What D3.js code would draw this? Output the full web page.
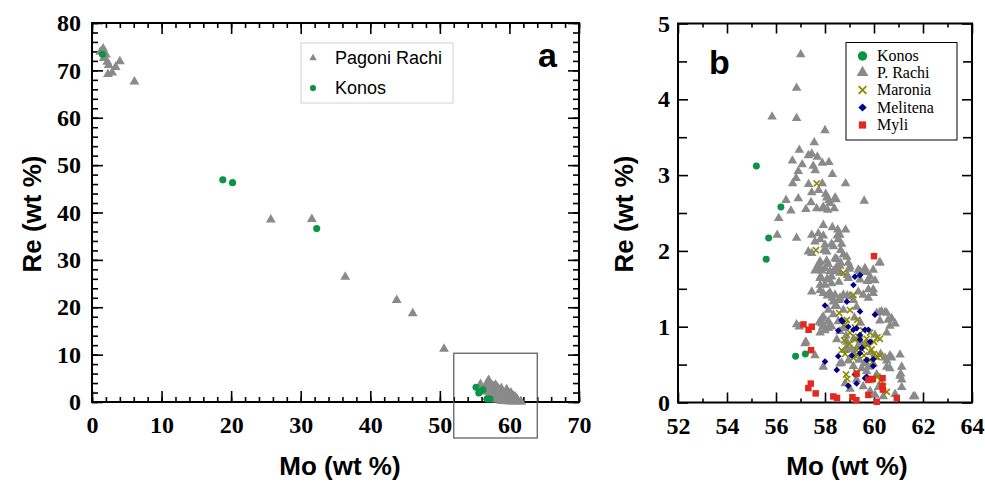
<!DOCTYPE html>
<html>
<head>
<meta charset="UTF-8">
<style>
  body { margin: 0; background: #fff; }
  svg { display: block; }
</style>
</head>
<body>
<svg></svg>
<script src="https://d3js.org/d3.v7.min.js"></script>
<script>

// ---- data (Mo wt %, Re wt %) ----
// panel a only: the high-Re analyses
let prachiHigh = [[1.2,73.9],[1.6,74.6],[2.0,73.3],[1.7,72.6],[2.2,71.8],[2.4,71.1],[2.3,69.2],[2.9,69.5],
  [3.4,70.7],[4.0,71.9],[6.1,67.6],[25.7,38.5],[31.6,38.6],[36.4,26.4],[43.8,21.5],[46.1,18.7],[50.6,11.2]];
let konosHigh = [[1.5,73.4],[18.8,46.9],[20.2,46.3],[32.3,36.6]];

// both panels
let konos = [[55.2,3.12],[56.2,2.58],[55.7,2.17],[55.6,1.89],[56.8,0.61],[57.2,0.64]];

let prachi = [[57.01,4.59],[56.84,4.15],[55.84,3.77],[56.84,3.75],[58.0,3.59],[57.56,3.43],[56.95,3.33],[57.32,3.26],
  [57.46,3.28],[56.67,3.19],[57.07,3.14],[57.69,3.24],[57.89,3.16],[58.16,3.17],[57.52,3.12],[56.91,3.05],[57.6,3.06],
  [56.82,2.96],[58.3,3.01],[56.68,2.89],[57.33,2.88],[57.89,2.89],[58.84,2.89],[57.46,2.77],[57.74,2.80],[58.03,2.75],
  [56.41,2.67],[56.91,2.69],[57.43,2.64],[58.16,2.67],[58.2,2.63],[58.45,2.68],[59.6,2.66],[56.61,2.53],[57.22,2.55],
  [57.66,2.56],[57.9,2.56],[58.11,2.54],[58.38,2.56],[58.07,2.70],[58.41,2.70],[57.93,2.58],[56.11,2.43],[57.93,2.34],
  [58.3,2.31],[58.52,2.28],[58.84,2.28],[56.05,2.21],[56.84,2.17],[57.46,2.21],[57.73,2.23],[57.93,2.20],[58.5,2.20],
  [57.59,2.12],[57.8,2.15],[57.32,1.99],[57.46,1.97],[58.0,2.08],[57.77,1.84],[58.61,2.21],[58.54,2.15],[58.68,2.09],
  [58.34,2.06],[58.07,1.99],[58.64,2.01],[58.75,1.95],[58.89,1.92],[58.41,1.90],[60.24,1.85],[57.96,2.01],[58.27,2.09],
  [57.8,1.86],[58.07,1.87],[58.48,1.89],[58.95,1.84],[58.61,1.80],[57.66,1.77],[57.87,1.74],[58.2,1.73],[58.5,1.75],
  [58.99,1.76],[58.91,1.68],[59.43,1.73],[59.67,1.72],[59.84,1.66],[60.22,1.84],[57.8,1.64],[58.07,1.62],[58.27,1.66],
  [58.0,1.55],[58.27,1.57],[58.57,1.59],[59.43,1.62],[59.73,1.60],[60.04,1.61],[59.97,1.49],[59.77,1.49],[57.46,1.46],
  [57.8,1.48],[58.2,1.45],[58.41,1.42],[58.3,1.38],[58.57,1.35],[58.91,1.41],[59.16,1.35],[58.14,1.22],[58.41,1.27],
  [59.29,1.26],[60.24,1.19],[60.45,1.19],[60.72,1.11],[60.58,1.09],[60.24,1.08],[57.87,1.11],[57.91,1.00],[57.8,0.92],
  [58.2,1.02],[56.95,1.00],[57.22,0.80],[57.59,0.62],[60.65,0.62],[61.06,0.63],[60.45,0.59],[60.52,0.47],[61.09,0.38],
  [61.13,0.30],[60.86,0.11],[61.61,0.08],[58.34,1.73],[58.61,1.71],[59.02,1.79],[58.95,1.64],[59.36,1.75],[59.63,1.77],
  [59.97,1.75],[59.77,1.62],[57.93,1.44],[58.14,1.42],[58.61,1.38],[58.75,1.42],[59.02,1.40],[59.36,1.46],[59.56,1.42],
  [59.77,1.38],[59.97,1.44],[58.34,1.33],[57.93,1.13],[57.87,1.04],[58.14,1.07],[58.0,0.95],[60.11,1.18],[60.31,1.20],
  [60.52,1.18],[60.65,1.01],[60.86,1.04],[60.52,0.92],[60.04,0.89],[58.61,0.94],[58.86,0.88],[58.89,0.80],[59.18,0.84],
  [59.46,0.79],[59.32,0.73],[59.7,0.77],[59.1,0.70],[58.82,0.69],[59.16,0.62],[59.4,0.56],[59.59,0.51],[58.95,0.55],
  [58.61,0.51],[59.86,0.66],[60.04,0.60],[60.27,0.64],[59.97,0.51],[59.77,0.47],[60.52,0.55],[60.72,0.59],[60.65,0.45],
  [61.13,0.47],[60.11,0.37],[59.84,0.29],[60.18,0.20],[61.06,0.35],[61.13,0.20],[61.67,0.08],[57.93,0.47],[58.14,1.82],
  [58.48,1.79],[58.64,1.84],[57.73,1.79],[57.59,1.74],[58.0,1.77],[57.82,1.66],[58.1,1.63],[57.8,1.55],[58.1,1.41],
  [57.77,1.06],[57.96,1.01],[58.14,0.98],[56.84,1.03],[57.18,0.78],[58.27,1.00],[58.54,1.07],[58.75,0.98],[58.48,0.83],
  [58.89,0.73],[58.68,0.52],[59.16,0.48],[59.5,0.45],[59.7,0.41],[59.29,0.30],[58.82,0.25],[59.02,0.18],[59.56,0.21],
  [59.84,0.15],[60.04,0.10],[60.38,0.08],[58.34,1.16],[58.48,1.27],[58.75,1.22],[59.2,1.12],[59.45,1.05]];

// panel b only
let maronia = [[57.66,2.89],[57.63,2.01],[58.75,1.71],[59.16,1.42],[58.58,1.18],[59.02,1.22],[59.32,1.09],[59.22,0.99],
  [59.02,0.92],[59.36,0.87],[59.7,0.84],[59.56,0.95],[59.84,0.92],[60.14,0.86],[60.24,0.84],[58.78,0.82],[58.99,0.77],
  [59.29,0.69],[59.5,0.70],[59.73,0.77],[60.0,0.80],[58.68,0.69],[59.16,0.59],[59.32,0.63],[59.59,0.62],[60.0,0.64],
  [60.14,0.60],[60.24,0.62],[58.86,0.37],[58.91,0.31],[59.29,0.40],[60.14,0.34],[60.27,0.29],[60.38,0.21],[60.52,0.14],
  [58.82,0.64],[59.63,0.73],[59.9,0.70],[58.82,1.03],[58.89,1.09],[59.43,0.83],[59.22,0.83],[59.84,0.56]];
let melitena = [[58.0,1.28],[58.0,0.54],[59.22,1.66],[59.43,1.68],[59.16,1.55],[58.89,1.33],[59.43,1.20],[58.68,1.09],
  [58.54,0.95],[58.95,1.00],[59.16,0.96],[59.43,0.89],[59.63,0.96],[60.04,1.16],[58.54,0.61],[59.09,0.62],[59.43,0.65],
  [58.48,0.43],[59.22,0.37],[59.63,0.32],[58.95,0.22],[59.29,0.25],[59.97,0.48],[59.43,0.83],[59.84,0.80],[59.5,0.72],
  [59.7,0.56],[59.97,0.57],[59.7,0.34],[59.77,0.96],[59.29,0.98],[58.71,1.07]];
let myli = [[60.0,1.93],[57.12,1.03],[57.33,0.96],[57.46,1.00],[57.43,0.69],[57.42,0.25],[57.32,0.19],[57.62,0.12],
  [58.34,0.08],[58.49,0.06],[59.12,0.07],[59.28,0.03],[59.77,0.10],[60.11,0.01],[60.93,0.06],[59.29,0.38],[59.77,0.30],
  [59.95,0.31],[60.35,0.32],[60.34,0.22],[60.36,0.17]];

// inset frame drawn on panel a (Mo 52-64 window)
let insetBox = [52, 64, -7.6, 10.3];

// ticks
let aXMajor = d3.range(0, 71, 10), aXMinor = d3.range(0, 71, 2);
let aYMajor = d3.range(0, 81, 10), aYMinor = d3.range(0, 81, 2);
let bXMajor = d3.range(52, 65, 2), bXMinor = d3.range(53, 64, 2);
let bYMajor = d3.range(0, 6, 1), bYMinor = d3.range(0.5, 5, 1);

let legendA = ["Pagoni Rachi", "Konos"];
let legendB = ["Konos", "P. Rachi", "Maronia", "Melitena", "Myli"];

// ---- drawing ----
let width = 985, height = 482;
let svg = d3.select("svg").attr("width", width).attr("height", height);

const GREEN = "#0a9444", GRAY = "#8a8a8a", OLIVE = "#8c8a00", NAVY = "#000088", RED = "#e3291f";
const SERIF = "'Liberation Serif', 'Times New Roman', serif";
const SANS = "'Liberation Sans', Arial, sans-serif";

let xa = d3.scaleLinear().domain([0, 70]).range([92, 579]);
let ya = d3.scaleLinear().domain([0, 80]).range([402, 23]);
let xb = d3.scaleLinear().domain([52, 64]).range([678, 972]);
let yb = d3.scaleLinear().domain([0, 5]).range([402.5, 23.5]);

function tickSet(axisFn, scale, values, size, transform, labels, pad) {
  let ax = axisFn(scale).tickValues(values).tickSize(-size).tickPadding(pad || 0);
  ax.tickFormat(labels ? d3.format("d") : "");
  let g = svg.append("g").attr("transform", transform).call(ax);
  g.select(".domain").remove();
  g.selectAll("line").attr("stroke", "#000").attr("stroke-width", 1.6);
  g.attr("font-family", SERIF).attr("font-size", 24).attr("font-weight", "bold").attr("fill", "#000");
  g.selectAll("text").attr("fill", "#000");
  return g;
}

function frame(x, y, xMaj, xMin, yMaj, yMin, xPad, yPad, lenMaj, lenXMin, lenYMin) {
  let [l, r] = x.range(), [b, t] = y.range();
  tickSet(d3.axisBottom, x, xMin, lenXMin, `translate(0,${b})`, false);
  tickSet(d3.axisTop, x, xMin, lenXMin, `translate(0,${t})`, false);
  tickSet(d3.axisLeft, y, yMin, lenYMin, `translate(${l},0)`, false);
  tickSet(d3.axisRight, y, yMin, lenYMin, `translate(${r},0)`, false);
  tickSet(d3.axisBottom, x, xMaj, lenMaj, `translate(0,${b})`, true, xPad);
  tickSet(d3.axisTop, x, xMaj, lenMaj, `translate(0,${t})`, false);
  tickSet(d3.axisLeft, y, yMaj, lenMaj, `translate(${l},0)`, true, yPad);
  tickSet(d3.axisRight, y, yMaj, lenMaj, `translate(${r},0)`, false);
  svg.append("rect").attr("x", l).attr("y", t).attr("width", r - l).attr("height", b - t)
    .attr("fill", "none").attr("stroke", "#000").attr("stroke-width", 2);
}

let timesSym = d3.symbolTimes || d3.symbolX || {
  draw(ctx, size) { let r = Math.sqrt(size) / 2; ctx.moveTo(-r, -r); ctx.lineTo(r, r); ctx.moveTo(-r, r); ctx.lineTo(r, -r); }
};

function marks(data, x, y, type, size, color, rot) {
  let isStroke = type === timesSym;
  svg.append("g").selectAll("path").data(data).enter().append("path")
    .attr("d", d3.symbol().type(type).size(size))
    .attr("transform", d => `translate(${x(d[0])},${y(d[1])})` + (rot ? ` rotate(${rot})` : ""))
    .attr("fill", isStroke ? "none" : color)
    .attr("stroke", isStroke ? color : "none")
    .attr("stroke-width", isStroke ? 1.6 : 0);
}

// panel a
frame(xa, ya, aXMajor, aXMinor, aYMajor, aYMinor, 14, 11, 11, 5, 6);
svg.append("rect")
  .attr("x", xa(insetBox[0])).attr("y", ya(insetBox[3]))
  .attr("width", xa(insetBox[1]) - xa(insetBox[0])).attr("height", ya(insetBox[2]) - ya(insetBox[3]))
  .attr("fill", "none").attr("stroke", "#555").attr("stroke-width", 1.2);
marks(prachiHigh.concat(prachi), xa, ya, d3.symbolTriangle, 42, GRAY);
marks(konosHigh.concat(konos), xa, ya, d3.symbolCircle, 40, GREEN);

// legend a
let lgA = svg.append("g");
lgA.append("rect").attr("x", 301).attr("y", 43).attr("width", 152).attr("height", 60)
  .attr("fill", "#fff").attr("stroke", "#d0d0d0").attr("stroke-width", 1);
let lgASym = [d3.symbolTriangle, d3.symbolCircle], lgACol = [GRAY, GREEN];
legendA.forEach((name, i) => {
  let cy = 58 + i * 30;
  lgA.append("path").attr("d", d3.symbol().type(lgASym[i]).size(i ? 30 : 24)())
    .attr("transform", `translate(313,${cy})`).attr("fill", lgACol[i]);
  lgA.append("text").attr("x", 335).attr("y", cy).attr("dy", "0.36em")
    .attr("font-family", SANS).attr("font-size", 18).text(name);
});
svg.append("text").attr("x", 538).attr("y", 67).attr("font-family", SANS).attr("font-weight", "bold")
  .attr("font-size", 34).text("a");

// panel b
frame(xb, yb, bXMajor, bXMinor, bYMajor, bYMinor, 14, 8, 10, 4, 9);
marks(prachi, xb, yb, d3.symbolTriangle, 40, GRAY);
marks(konos, xb, yb, d3.symbolCircle, 38, GREEN);
marks(maronia, xb, yb, timesSym, 26, OLIVE);
marks(melitena, xb, yb, d3.symbolSquare, 22, NAVY, 45);
marks(myli, xb, yb, d3.symbolSquare, 42, RED);

let lgB = svg.append("g");
lgB.append("rect").attr("x", 846).attr("y", 42.5).attr("width", 111).attr("height", 97.5)
  .attr("fill", "#fff").attr("stroke", "#000").attr("stroke-width", 1);
let lgBSym = [[d3.symbolCircle, 70, GREEN, 0], [d3.symbolTriangle, 60, GRAY, 0], [timesSym, 40, OLIVE, 0],
  [d3.symbolSquare, 34, NAVY, 45], [d3.symbolSquare, 52, RED, 0]];
let lgBRows = [56, 72.5, 90, 107.5, 125];
legendB.forEach((name, i) => {
  let [type, size, col, rot] = lgBSym[i];
  let isStroke = type === timesSym;
  lgB.append("path").attr("d", d3.symbol().type(type).size(size)())
    .attr("transform", `translate(862.5,${lgBRows[i]})` + (rot ? ` rotate(${rot})` : ""))
    .attr("fill", isStroke ? "none" : col).attr("stroke", isStroke ? col : "none").attr("stroke-width", 1.8);
  lgB.append("text").attr("x", 877).attr("y", lgBRows[i]).attr("dy", "0.33em")
    .attr("font-family", SERIF).attr("font-size", 16).text(name);
});
svg.append("text").attr("x", 709).attr("y", 74).attr("font-family", SANS).attr("font-weight", "bold")
  .attr("font-size", 34).text("b");

// axis titles
function title(txt, x, y, rot) {
  svg.append("text").attr("transform", `translate(${x},${y})` + (rot ? " rotate(-90)" : ""))
    .attr("text-anchor", "middle").attr("font-family", SANS).attr("font-weight", "bold")
    .attr("font-size", 26).text(txt);
}
title("Mo (wt %)", 340, 475);
title("Re (wt %)", 41, 214, true);
title("Mo (wt %)", 847, 475);
title("Re (wt %)", 633, 214, true);

</script>
</body>
</html>
